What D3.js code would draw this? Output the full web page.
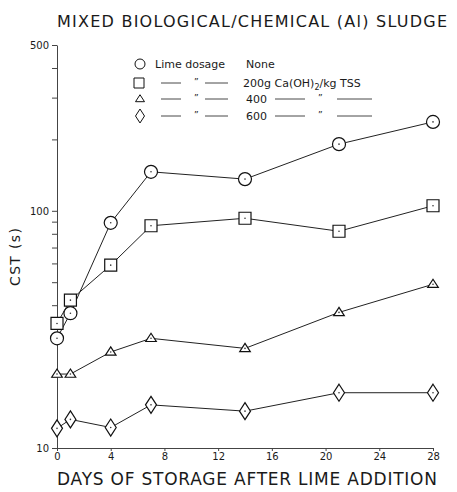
<!DOCTYPE html>
<html>
<head>
<meta charset="utf-8">
<script src="https://cdn.jsdelivr.net/npm/d3@7"></script>
<style>
    body { margin: 0; background: #fff; }
    text { font-family: "DejaVu Sans", sans-serif; fill: #1a1a1a; }
</style>
</head>
<body>
<script>
// CST vs storage time
var days = [0, 1, 4, 7, 14, 21, 28];
var cstNone = [29, 37, 89, 146, 136, 191, 237];
var cst200 = [33.5, 42, 59, 86.5, 93, 82, 105];
var cst400 = [20.5, 20.5, 25.4, 29, 26.3, 37.3, 49];
var cst600 = [12.1, 13.2, 12.2, 15.2, 14.3, 17.1, 17.1];

var xTicks = [0, 4, 8, 12, 16, 20, 24, 28];
var yTicks = [10, 20, 30, 40, 50, 60, 70, 80, 90, 100, 200, 300, 400, 500];
var yLabels = [10, 100, 500];

var width = 457, height = 492;

var svg = d3.select("body")
    .append("svg")
    .attr("width", width)
    .attr("height", height);

var x = d3.scaleLinear().domain([0, 28]).range([57, 433]);
var y = d3.scaleLog().domain([10, 500]).range([448, 45]);

// axes
var yAxis = svg.append("g")
    .attr("transform", "translate(" + x(0) + ",0)")
    .call(d3.axisLeft(y)
        .tickValues(yTicks)
        .tickFormat(function(d) { return yLabels.indexOf(d) >= 0 ? d : ""; })
        .tickSize(5)
        .tickSizeOuter(0)
        .tickPadding(3));

var xAxis = svg.append("g")
    .attr("transform", "translate(0," + y(10) + ")")
    .call(d3.axisBottom(x)
        .tickValues(xTicks)
        .tickSize(3)
        .tickSizeOuter(0)
        .tickPadding(2));

svg.selectAll(".domain, .tick line")
    .attr("stroke", "#444")
    .attr("stroke-width", 1);
svg.selectAll(".tick text")
    .style("font-size", "10px")
    .attr("fill", "#444");

// titles
svg.append("text")
    .attr("x", 57)
    .attr("y", 27)
    .attr("textLength", 390)
    .attr("lengthAdjust", "spacing")
    .style("font-size", "16px")
    .text("MIXED BIOLOGICAL/CHEMICAL (Al) SLUDGE");

svg.append("text")
    .attr("x", 57)
    .attr("y", 485)
    .attr("textLength", 380)
    .attr("lengthAdjust", "spacing")
    .style("font-size", "17px")
    .text("DAYS OF STORAGE AFTER LIME ADDITION");

svg.append("text")
    .attr("transform", "translate(20,257) rotate(-90)")
    .attr("text-anchor", "middle")
    .attr("textLength", 58)
    .attr("lengthAdjust", "spacing")
    .style("font-size", "14px")
    .text("CST (s)");

// marker shapes
function markerPath(type, s) {
    if (type == "circle") {
        return d3.symbol().type(d3.symbolCircle).size(Math.PI * s * s)();
    }
    if (type == "square") {
        return "M" + (-s) + "," + (-s) + "H" + s + "V" + s + "H" + (-s) + "Z";
    }
    if (type == "triangle") {
        return "M0," + (-s * 0.95) + "L" + s + "," + (s * 0.6) + "L" + (-s) + "," + (s * 0.6) + "Z";
    }
    // tall diamond
    return "M0," + (-s * 1.55) + "L" + s + ",0L0," + (s * 1.55) + "L" + (-s) + ",0Z";
}

var series = [
    { values: cstNone, type: "circle", size: 6.5 },
    { values: cst200, type: "square", size: 6 },
    { values: cst400, type: "triangle", size: 5.3 },
    { values: cst600, type: "diamond", size: 5.5 }
];

var line = d3.line()
    .x(function(d) { return x(d[0]); })
    .y(function(d) { return y(d[1]); });

series.forEach(function(s) {
    var pts = days.map(function(d, i) { return [d, s.values[i]]; });

    svg.append("path")
        .datum(pts)
        .attr("d", line)
        .attr("fill", "none")
        .attr("stroke", "#222")
        .attr("stroke-width", 1);

    var g = svg.selectAll(null)
        .data(pts)
        .enter()
        .append("g")
        .attr("transform", function(d) { return "translate(" + x(d[0]) + "," + y(d[1]) + ")"; });

    g.append("path")
        .attr("d", markerPath(s.type, s.size))
        .attr("fill", "#fff")
        .attr("stroke", "#111")
        .attr("stroke-width", 1.2);

    g.append("circle")
        .attr("r", 0.8)
        .attr("fill", "#333");
});

// legend
var legend = svg.append("g").style("font-size", "11px");
var legendRows = [64, 83, 99, 116];

legend.append("path")
    .attr("transform", "translate(140," + legendRows[0] + ")")
    .attr("d", markerPath("circle", 5))
    .attr("fill", "#fff").attr("stroke", "#111");
legend.append("path")
    .attr("transform", "translate(139," + legendRows[1] + ")")
    .attr("d", markerPath("square", 5))
    .attr("fill", "#fff").attr("stroke", "#111");
legend.append("path")
    .attr("transform", "translate(140," + legendRows[2] + ")")
    .attr("d", markerPath("triangle", 4.5))
    .attr("fill", "#fff").attr("stroke", "#111");
legend.append("path")
    .attr("transform", "translate(140," + legendRows[3] + ")")
    .attr("d", markerPath("diamond", 4.5))
    .attr("fill", "#fff").attr("stroke", "#111");

legend.append("text")
    .attr("x", 155).attr("y", legendRows[0] + 4)
    .text("Lime dosage");
legend.append("text")
    .attr("x", 246).attr("y", legendRows[0] + 4)
    .text("None");

function dash(x1, x2, yy) {
    legend.append("line")
        .attr("x1", x1).attr("x2", x2)
        .attr("y1", yy).attr("y2", yy)
        .attr("stroke", "#333").attr("stroke-width", 0.9);
}
function ditto(xx, yy) {
    legend.append("text")
        .attr("x", xx).attr("y", yy + 2)
        .style("font-size", "9px")
        .text("\u201D");
}

[1, 2, 3].forEach(function(r) {
    var yy = legendRows[r];
    dash(161, 181, yy);
    ditto(194, yy);
    dash(205, 228, yy);
});

var t200 = legend.append("text")
    .attr("x", 243).attr("y", legendRows[1] + 4);
t200.append("tspan").text("200g Ca(OH)");
t200.append("tspan").attr("dy", 3).style("font-size", "8px").text("2");
t200.append("tspan").attr("dy", -3).text("/kg TSS");

[2, 3].forEach(function(r) {
    var yy = legendRows[r];
    legend.append("text")
        .attr("x", 246).attr("y", yy + 4)
        .text(r == 2 ? "400" : "600");
    dash(275, 305, yy);
    ditto(318, yy);
    dash(337, 372, yy);
});
</script>
</body>
</html>
